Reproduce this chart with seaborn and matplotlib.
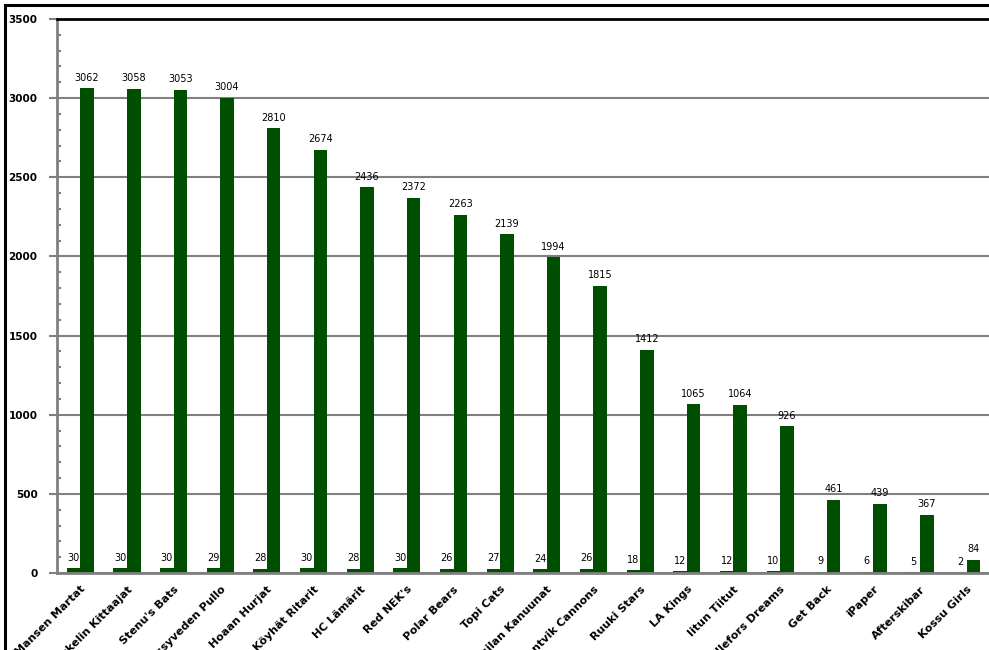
import matplotlib
matplotlib.use("Agg")
import matplotlib.pyplot as plt
import seaborn as sns
import pandas as pd
from matplotlib.patches import Rectangle
from matplotlib.ticker import MultipleLocator

teams = ["Mansen Martat", "Pitikkelin Kittaajat", "Stenu's Bats", "Kissyveden Pullo",
         "Hoaan Hurjat", "Köyhät Ritarit", "HC Lämärit", "Red NEK's", "Polar Bears",
         "Topi Cats", "Pasilan Kanuunat", "Kantvik Cannons", "Ruuki Stars", "LA Kings",
         "Iitun Tiitut", "Billefors Dreams", "Get Back", "iPaper", "Afterskibar", "Kossu Girls"]
small_vals = [30, 30, 30, 29, 28, 30, 28, 30, 26, 27, 24, 26, 18, 12, 12, 10, 9, 6, 5, 2]
big_vals = [3062, 3058, 3053, 3004, 2810, 2674, 2436, 2372, 2263, 2139, 1994, 1815,
            1412, 1065, 1064, 926, 461, 439, 367, 84]
series_names = ["A", "B"]

df = pd.DataFrame({
    "team": teams * 2,
    "value": small_vals + big_vals,
    "series": [series_names[0]] * len(teams) + [series_names[1]] * len(teams),
})

sns.set_style("white")
plt.rcParams['font.family'] = ['DejaVu Sans']
plt.rcParams['text.color'] = 'black'
plt.rcParams['xtick.color'] = 'black'
plt.rcParams['ytick.color'] = 'black'

fig = plt.figure(figsize=(9.89, 6.5), dpi=100)
ax = fig.add_axes([57 / 989, 1 - 573 / 650, 933 / 989, (573 - 19) / 650])

green = "#004f00"
sns.barplot(data=df, x="team", y="value", hue="series", order=teams,
            palette=[green, green], width=0.58, ax=ax, legend=False,
            saturation=1, errorbar=None, linewidth=0, edgecolor=green)

for cont in ax.containers:
    ax.bar_label(cont, fmt="%d", padding=4, fontsize=7, color="black")

ax.set_ylim(0, 3500)
ax.set_xlim(-0.5, len(teams) - 0.5)
ax.yaxis.set_major_locator(MultipleLocator(500))
ax.yaxis.set_minor_locator(MultipleLocator(100))
ax.yaxis.grid(True, which="major", color="#808080", linewidth=1.5)
ax.set_axisbelow(True)
ax.set_xlabel("")
ax.set_ylabel("")

for s in ["left", "bottom"]:
    ax.spines[s].set_color("#808080")
    ax.spines[s].set_linewidth(2)
ax.spines["top"].set_color("black")
ax.spines["top"].set_linewidth(2)
ax.spines["right"].set_visible(False)

ax.tick_params(axis="y", which="major", direction="out", length=6, width=1.5,
               color="#808080", labelcolor="black", labelsize=7.5, pad=8, left=True)
ax.tick_params(axis="y", which="minor", direction="in", length=3, width=1.5,
               color="#808080", left=True)
ax.tick_params(axis="x", length=0, pad=8, labelcolor="black")
for lbl in ax.get_yticklabels():
    lbl.set_fontweight("bold")

ax.set_xticks(range(len(teams)))
ax.set_xticklabels(teams, rotation=45, ha="right", rotation_mode="anchor",
                   fontsize=8, fontweight="bold", color="black")

fig.patches.append(Rectangle((5 / 989, -0.1), 1.2, (1 - 5 / 650) + 0.1,
                             transform=fig.transFigure, fill=False,
                             edgecolor="black", linewidth=2.2, zorder=10))

fig.savefig("out.png", dpi=100)
